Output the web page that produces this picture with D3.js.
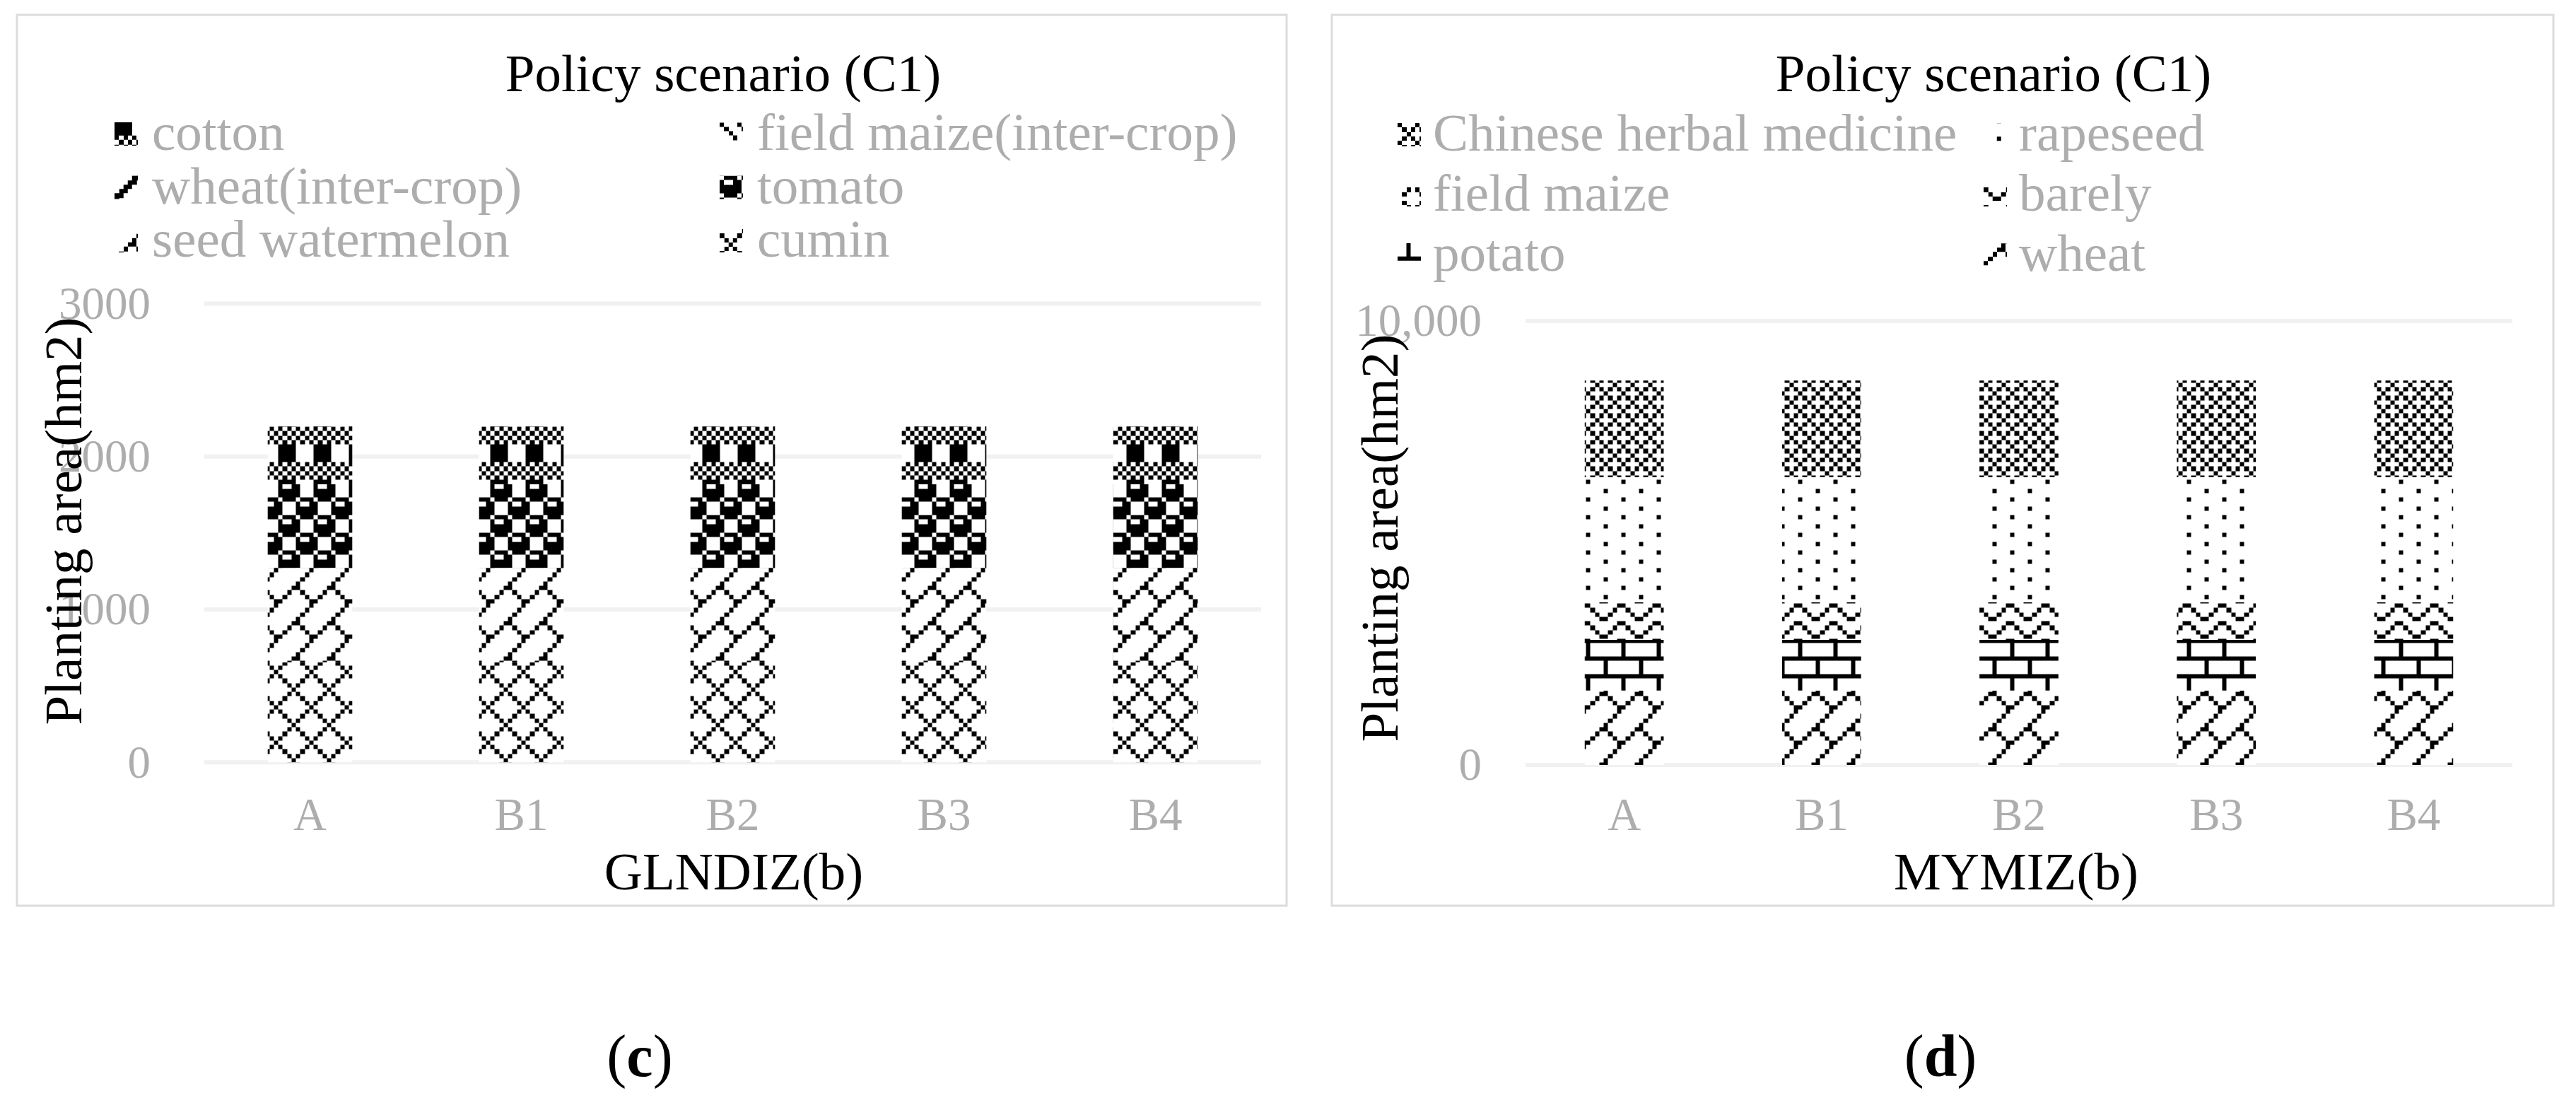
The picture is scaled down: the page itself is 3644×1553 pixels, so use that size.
<!DOCTYPE html>
<html><head><meta charset="utf-8">
<script src="https://cdn.jsdelivr.net/npm/d3@7"></script>
<style>html,body{margin:0;padding:0;background:#fff;} svg{display:block}</style>
</head><body>
<svg id="chart" width="3644" height="1553"></svg>
<script>
// ---------------- DATA ----------------
const categories = ["A", "B1", "B2", "B3", "B4"];

// Panel (c) GLNDIZ(b) — series listed bottom → top of the stack
const seriesC = ["cumin", "seed watermelon", "tomato", "wheat(inter-crop)", "field maize(inter-crop)", "cotton"];
const cuminC          = [655, 655, 655, 655, 655];
const seedWatermelonC = [617, 617, 617, 617, 617];
const tomatoC         = [547, 547, 547, 547, 547];
const wheatInterC     = [0, 0, 0, 0, 0];
const fieldMaizeInterC= [0, 0, 0, 0, 0];
const cottonC         = [378, 378, 378, 378, 378];
const ticksC = [0, 1000, 2000, 3000];

// Panel (d) MYMIZ(b) — series listed bottom → top of the stack
const seriesD = ["wheat", "potato", "barely", "field maize", "rapeseed", "Chinese herbal medicine"];
const wheatD      = [1677, 1677, 1677, 1677, 1677];
const potatoD     = [1142, 1142, 1142, 1142, 1142];
const barelyD     = [849, 849, 849, 849, 849];
const fieldMaizeD = [0, 0, 0, 0, 0];
const rapeseedD   = [2814, 2814, 2814, 2814, 2814];
const herbalD     = [2177, 2177, 2177, 2177, 2177];
const ticksD = [0, 10000];

// ---------------- PATTERNS (8x8 bitmaps) ----------------
const BM = {
  plaid:   ["10101010","01010101","10101010","01010101","11110000","11110000","11110000","11110000"],
  sphere:  ["01110111","10001001","10001111","10001111","01110111","10011000","11111000","11111000"],
  dbrick:  ["00000001","00000010","00000100","00001000","00011000","00100100","01000010","10000001"],
  diamond: ["10000010","01000100","00101000","00010000","00101000","01000100","10000010","00000001"],
  zigzag:  ["10000001","01000010","00100100","00011000","10000001","01000010","00100100","00011000"],
  hbrick:  ["11111111","10000000","10000000","10000000","11111111","00001000","00001000","00001000"],
  p10:     ["10000000","00000000","00001000","00000000","10000000","00000000","00001000","00000000"],
  p30:     ["10001000","01010101","00100010","01010101","10001000","01010101","00100010","01010101"],
  dashdn:  ["00000000","00000000","10001000","01000100","00100010","00010001","00000000","00000000"],
  wideup:  ["00000011","00000110","00001100","00011000","00110000","01100000","11000000","10000001"],
  ring:    ["00000000","00101000","01000100","00000000","01000100","00101000","00000000","00000000"]
};
const patC = {"cumin":"diamond","seed watermelon":"dbrick","tomato":"sphere","wheat(inter-crop)":"wideup","field maize(inter-crop)":"dashdn","cotton":"plaid"};
const patD = {"wheat":"dbrick","potato":"hbrick","barely":"zigzag","field maize":"ring","rapeseed":"p10","Chinese herbal medicine":"p30"};
// swatch offsets (in pattern pixels)
const swOffC = {"cotton":[0,5],"field maize(inter-crop)":[0,2],"wheat(inter-crop)":[1,1],"tomato":[0,4],"seed watermelon":[0,1],"cumin":[1,0]};
const swOffD = {"Chinese herbal medicine":[0,0],"rapeseed":[1,3],"field maize":[0,0],"barely":[1,0],"potato":[2,5],"wheat":[0,3]};

const P = 6.25, T = 50;
const svg = d3.select("#chart");
svg.append("rect").attr("width",3644).attr("height",1553).attr("fill","#fff");
const defs = svg.append("defs");
function addPattern(id, rows, x, y) {
  const pat = defs.append("pattern").attr("id", id).attr("patternUnits","userSpaceOnUse")
    .attr("width", T).attr("height", T).attr("x", x).attr("y", y);
  pat.append("rect").attr("width", T).attr("height", T).attr("fill", "#fff");
  rows.forEach((row, r) => {
    for (let c = 0; c < 8; c++) if (row[c] === "1")
      pat.append("rect").attr("x", c*P).attr("y", r*P).attr("width", P).attr("height", P)
        .attr("fill", "#000").attr("shape-rendering", "crispEdges");
  });
}
Object.keys(BM).forEach(k => addPattern("g-" + k, BM[k], 43.5, 3.5));

const FONT = "'Liberation Serif','Times New Roman',Times,serif";
const GRAY = "#adadad";

function drawChart(cfg) {
  const g = svg.append("g");
  // panel border
  g.append("rect").attr("x", cfg.panel[0]).attr("y", cfg.panel[1])
    .attr("width", cfg.panel[2]-cfg.panel[0]).attr("height", cfg.panel[3]-cfg.panel[1])
    .attr("fill", "none").attr("stroke", "#dcdcdc").attr("stroke-width", 3);

  const x = d3.scaleBand().domain(categories).range([cfg.left, cfg.right]).paddingInner(0.6).paddingOuter(0.3);
  const y = d3.scaleLinear().domain([0, cfg.yMax]).range([cfg.y0, cfg.yTop]);

  // gridlines
  g.append("g").selectAll("line").data(cfg.ticks).join("line")
    .attr("x1", cfg.left).attr("x2", cfg.right)
    .attr("y1", d => y(d)).attr("y2", d => y(d))
    .attr("stroke", "#f1f1f1").attr("stroke-width", 6);

  // stacked bars
  const rows = categories.map((c, i) => {
    const o = {cat: c};
    cfg.series.forEach((s, j) => o[s] = cfg.values[j][i]);
    return o;
  });
  const stacked = d3.stack().keys(cfg.series)(rows);
  g.append("g").selectAll("g").data(stacked).join("g")
    .attr("fill", d => "url(#g-" + cfg.pat[d.key] + ")")
    .selectAll("rect").data(d => d.filter(v => v[1] - v[0] > 0)).join("rect")
    .attr("x", d => x(d.data.cat)).attr("width", x.bandwidth())
    .attr("y", d => y(d[1])).attr("height", d => y(d[0]) - y(d[1]));

  // y axis labels
  const ya = g.append("g").attr("transform", `translate(${cfg.left},0)`)
    .call(d3.axisLeft(y).tickValues(cfg.ticks).tickFormat(cfg.fmt).tickSize(0).tickPadding(cfg.left - cfg.tickLabelX));
  ya.select(".domain").remove();
  ya.selectAll("text").attr("font-family", FONT).attr("font-size", 65).attr("fill", GRAY);

  // x axis labels
  const fsx = 65;
  const xa = g.append("g").attr("transform", `translate(0,${cfg.y0})`)
    .call(d3.axisBottom(x).tickSize(0).tickPadding(cfg.xLabelY - cfg.y0 - 0.71*fsx));
  xa.select(".domain").remove();
  xa.selectAll("text").attr("font-family", FONT).attr("font-size", fsx).attr("fill", GRAY);

  // title
  g.append("text").attr("x", cfg.titleX).attr("y", 129).attr("text-anchor", "middle")
    .attr("font-family", FONT).attr("font-size", 75).attr("fill", "#000").text("Policy scenario (C1)");

  // legend (reverse of stack order)
  const legendItems = cfg.series.slice().reverse();
  legendItems.forEach((s, i) => {
    const col = i % 2, row = Math.floor(i / 2);
    const bx = cfg.legCols[col], base = cfg.legRows[row], by = base - 39;
    const off = cfg.swOff[s];
    const pid = "sw-" + cfg.id + "-" + i;
    addPattern(pid, BM[cfg.pat[s]], bx - off[0]*P, by - off[1]*P);
    g.append("rect").attr("x", bx).attr("y", by).attr("width", 33).attr("height", 33).attr("fill", `url(#${pid})`);
    g.append("text").attr("x", bx + cfg.legDx).attr("y", base)
      .attr("font-family", FONT).attr("font-size", 75).attr("fill", GRAY).text(s);
  });

  // axis titles
  g.append("text").attr("transform", `translate(${cfg.yTitleX},${cfg.yTitleY}) rotate(-90)`)
    .attr("text-anchor", "middle").attr("font-family", FONT).attr("font-size", 75).attr("fill", "#000")
    .text("Planting area(hm2)");
  g.append("text").attr("x", cfg.xTitleX).attr("y", 1258).attr("text-anchor", "middle")
    .attr("font-family", FONT).attr("font-size", 75).attr("fill", "#000").text(cfg.xTitle);

  // caption
  const cap = g.append("text").attr("x", cfg.capX).attr("y", 1522).attr("text-anchor", "middle")
    .attr("font-family", FONT).attr("font-size", 84).attr("fill", "#000");
  cap.append("tspan").text("(");
  cap.append("tspan").attr("font-weight", "bold").text(cfg.cap);
  cap.append("tspan").text(")");
}

drawChart({
  id: "c", panel: [24, 21, 1820, 1281], left: 289, right: 1784, y0: 1078.3, yTop: 429.5,
  yMax: 3000, ticks: ticksC, fmt: d => String(d), tickLabelX: 213,
  series: seriesC, values: [cuminC, seedWatermelonC, tomatoC, wheatInterC, fieldMaizeInterC, cottonC],
  pat: patC, swOff: swOffC, titleX: 1023,
  legCols: [162, 1018], legDx: 53, legRows: [212, 287.5, 363],
  yTitleX: 115, yTitleY: 737, xTitleX: 1038, xTitle: "GLNDIZ(b)", xLabelY: 1174,
  capX: 905, cap: "c"
});
drawChart({
  id: "d", panel: [1884, 21, 3612, 1281], left: 2158, right: 3554, y0: 1082, yTop: 454,
  yMax: 10000, ticks: ticksD, fmt: d3.format(","), tickLabelX: 2096,
  series: seriesD, values: [wheatD, potatoD, barelyD, fieldMaizeD, rapeseedD, herbalD],
  pat: patD, swOff: swOffD, titleX: 2820,
  legCols: [1977, 2806], legDx: 50, legRows: [213, 298, 383],
  yTitleX: 1977, yTitleY: 761, xTitleX: 2852, xTitle: "MYMIZ(b)", xLabelY: 1174,
  capX: 2745, cap: "d"
});
</script>
</body></html>
